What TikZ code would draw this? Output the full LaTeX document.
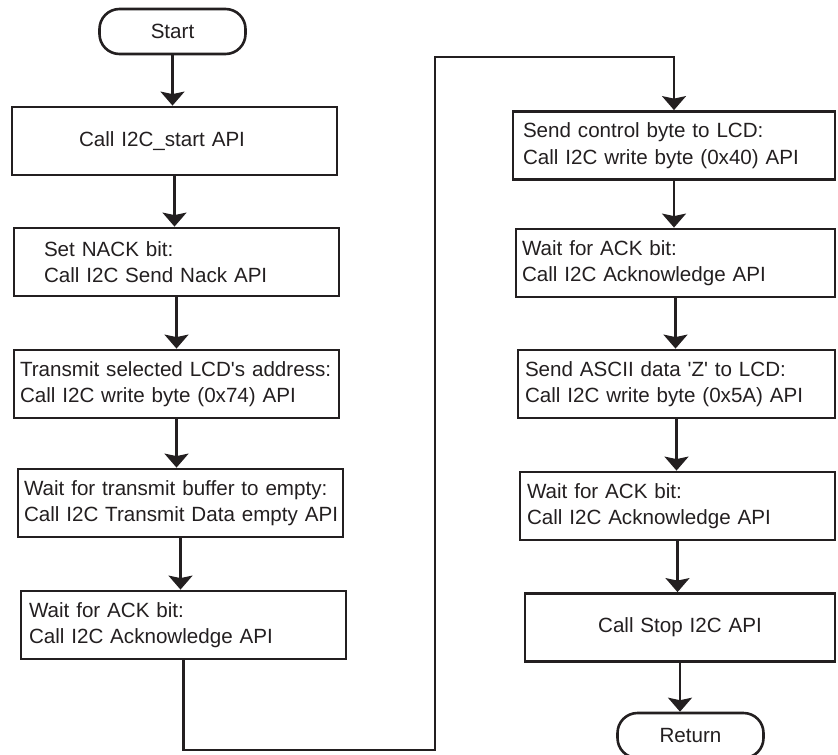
\documentclass[tikz,border=0pt]{standalone}
\usepackage{fontspec}
\setmainfont{Liberation Sans}
\usetikzlibrary{arrows.meta}
\definecolor{ink}{HTML}{231F20}
\begin{document}
\begin{tikzpicture}[x=1pt,y=-1pt,
  txt/.style={text=ink, font=\fontsize{20.6}{26.5}\selectfont},
  box/.style={txt, draw=ink, line width=2.8pt, rectangle, minimum height=68pt, inner ysep=0pt, align=left},
  term/.style={txt, draw=ink, line width=2.6pt, rectangle, rounded corners=20pt, minimum width=146pt, minimum height=45pt},
  arr/.style={draw=ink, line width=2.3pt, -{Stealth[length=14pt,width=24pt,inset=2.5pt]}}]
\useasboundingbox (0,0) rectangle (838,755);
% left column
\node[term] (st) at (172.5,31.5) {Start};
\node[box, text width=191pt, inner xsep=67pt] (b1) at (174.5,141) {\mbox{Call I2C\_start API}};
\node[box, text width=265pt, inner xsep=30pt] (b2) at (176.5,262) {\mbox{Set NACK bit:}\\\mbox{Call I2C Send Nack API}};
\node[box, text width=313pt, inner xsep=6pt] (b3) at (176.5,384) {\mbox{Transmit selected LCD\textquotesingle s address:}\\\mbox{Call I2C write byte (0x74) API}};
\node[box, text width=313pt, inner xsep=6pt] (b4) at (180.5,503) {\mbox{Wait for transmit buffer to empty:}\\\mbox{Call I2C Transmit Data empty API}};
\node[box, text width=309pt, inner xsep=8pt] (b5) at (183.5,625) {\mbox{Wait for ACK bit:}\\\mbox{Call I2C Acknowledge API}};
% right column
\node[box, text width=302pt, inner xsep=10pt] (b6) at (674,145.5) {\mbox{Send control byte to LCD:}\\\mbox{Call I2C write byte (0x40) API}};
\node[box, text width=307pt, inner xsep=6pt] (b7) at (675.5,263) {\mbox{Wait for ACK bit:}\\\mbox{Call I2C Acknowledge API}};
\node[box, text width=303pt, inner xsep=7pt] (b8) at (676.5,384) {\mbox{Send ASCII data \textquotesingle Z\textquotesingle{} to LCD:}\\\mbox{Call I2C write byte (0x5A) API}};
\node[box, text width=301pt, inner xsep=7pt] (b9) at (677.5,506) {\mbox{Wait for ACK bit:}\\\mbox{Call I2C Acknowledge API}};
\node[box, text width=290pt, inner xsep=10pt, align=center] (b10) at (680,627.5) {Call Stop I2C API};
\node[term] (ret) at (690.5,735.5) {Return};
% connectors
\coordinate (c1) at (435,750);
\coordinate (c2) at (435,57);
\draw[arr] (st.south) -- (st.south |- b1.north);
\draw[arr] (b1.south) -- (b1.south |- b2.north);
\draw[arr] (b2.south) -- (b2.south |- b3.north);
\draw[arr] (b3.south) -- (b3.south |- b4.north);
\draw[arr] (b4.south) -- (b4.south |- b5.north);
\draw[arr] (b5.south) -- (b5.south |- c1) -- (c1) -- (c2) -- (c2 -| b6.north) -- (b6.north);
\draw[arr] (b6.south) -- (b6.south |- b7.north);
\draw[arr] (b7.south) -- (b7.south |- b8.north);
\draw[arr] (b8.south) -- (b8.south |- b9.north);
\draw[arr] (b9.south) -- (b9.south |- b10.north);
\draw[arr] (b10.south) -- (b10.south |- ret.north);
\end{tikzpicture}
\end{document}
